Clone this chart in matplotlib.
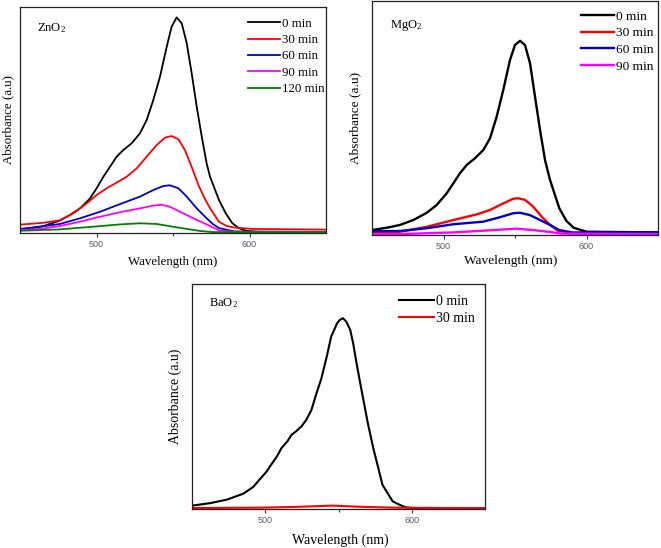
import matplotlib
matplotlib.use("Agg")
import matplotlib.pyplot as plt
from matplotlib.ticker import FixedLocator

plt.rcParams['font.family'] = ['Liberation Serif', 'DejaVu Serif']
plt.rcParams['mathtext.fontset'] = 'custom'
plt.rcParams['mathtext.rm'] = 'Liberation Serif'
plt.rcParams['mathtext.it'] = 'Liberation Serif:italic'

# ---------------- data ----------------
zn_wl_0 = [450, 465, 476, 482.7, 489.2, 495.8, 500.1, 504.5, 508.8, 513.2, 517.5, 523, 528.4, 532.8, 537.1,
           541.5, 545.9, 549.1, 552.4, 555.7, 559, 562.2, 565.5, 568.8, 572, 574.2, 580, 584.4, 588.7, 593,
           597.4, 605, 650]
zn_0 = [0.012, 0.03, 0.055, 0.080, 0.109, 0.153, 0.198, 0.249, 0.293, 0.338, 0.367, 0.397, 0.441, 0.50, 0.588,
        0.692, 0.824, 0.913, 0.954, 0.928, 0.839, 0.707, 0.559, 0.426, 0.308, 0.249, 0.147, 0.088, 0.044, 0.022,
        0.01, 0.005, 0.004]
zn_wl_30 = [450, 465, 476, 484.9, 493.6, 500.1, 506.7, 513.2, 519.7, 526.3, 532.8, 539.3, 544.8, 549.1, 553.5,
            557.8, 562.2, 566.6, 570.9, 574.2, 580, 585, 590, 602, 650]
zn_30 = [0.037, 0.045, 0.056, 0.087, 0.131, 0.168, 0.198, 0.223, 0.249, 0.286, 0.338, 0.389, 0.422, 0.429, 0.415,
         0.367, 0.293, 0.212, 0.150, 0.11, 0.05, 0.031, 0.024, 0.018, 0.015]
zn_wl_60 = [450, 465, 476.1, 489.2, 502.3, 515.4, 528.4, 537.1, 543.7, 548, 553.5, 559, 565.5, 572, 576, 580, 590, 650]
zn_60 = [0.018, 0.03, 0.040, 0.065, 0.094, 0.128, 0.161, 0.19, 0.208, 0.211, 0.198, 0.161, 0.109, 0.065, 0.04, 0.022,
         0.007, 0.005]
zn_wl_90 = [450, 465, 476.1, 489.2, 502.3, 515.4, 528.4, 537.1, 542.6, 548, 554.6, 563.3, 574.2, 580, 590, 650]
zn_90 = [0.012, 0.02, 0.031, 0.050, 0.072, 0.092, 0.109, 0.121, 0.125, 0.116, 0.094, 0.065, 0.031, 0.012, 0.005, 0.004]
zn_wl_120 = [450, 476, 497.9, 515.4, 528.4, 539.3, 552.4, 567.7, 576, 650]
zn_120 = [0.01, 0.016, 0.028, 0.038, 0.043, 0.040, 0.025, 0.009, 0.004, 0.003]

mg_wl_0 = [450, 462, 469.6, 478.9, 488.3, 495.2, 502.2, 506.9, 511.5, 516.2, 522, 527.8, 532.5, 537.2, 541.8,
           546.5, 550, 553.5, 557, 560.5, 564, 567.5, 571, 574.5, 581, 586, 591, 600, 650]
mg_0 = [0.021, 0.033, 0.043, 0.064, 0.095, 0.128, 0.178, 0.221, 0.264, 0.299, 0.328, 0.363, 0.413, 0.506, 0.62,
        0.748, 0.812, 0.83, 0.812, 0.734, 0.591, 0.449, 0.32, 0.235, 0.114, 0.06, 0.031, 0.014, 0.011]
mg_wl_30 = [450, 469.6, 488.3, 506.9, 523.2, 532.5, 541.8, 548.8, 552.3, 557, 562.8, 568.7, 574.5, 580, 590, 650]
mg_30 = [0.011, 0.014, 0.035, 0.064, 0.088, 0.107, 0.135, 0.155, 0.157, 0.15, 0.121, 0.078, 0.043, 0.018, 0.007, 0.003]
mg_wl_60 = [450, 469.6, 488.3, 506.9, 527.8, 539.5, 548.8, 553.5, 560.5, 567.5, 574.5, 581, 590, 650]
mg_60 = [0.016, 0.017, 0.029, 0.046, 0.057, 0.076, 0.093, 0.095, 0.085, 0.064, 0.043, 0.021, 0.011, 0.011]
mg_wl_90 = [450, 469.6, 506.9, 534.8, 551.2, 562.8, 574.5, 582, 650]
mg_90 = [0.003, 0.004, 0.011, 0.021, 0.027, 0.021, 0.013, 0.006, 0.003]

ba_wl_0 = [450, 462.4, 474, 485, 491.8, 496, 501, 503.2, 508, 511, 515, 518, 521, 524.7, 528, 531.5, 535, 538.3,
           542, 545, 549, 550.8, 553, 555.3, 558, 560, 562, 564.4, 567, 570, 574, 576.9, 580, 583.7, 587, 591.6,
           596, 603, 650]
ba_0 = [0.015, 0.026, 0.042, 0.068, 0.098, 0.13, 0.167, 0.189, 0.234, 0.27, 0.30, 0.33, 0.345, 0.367, 0.396, 0.44,
        0.515, 0.58, 0.678, 0.766, 0.825, 0.84, 0.848, 0.833, 0.796, 0.737, 0.66, 0.574, 0.485, 0.382, 0.263, 0.189,
        0.108, 0.068, 0.034, 0.019, 0.007, 0.003, 0.003]
ba_wl_30 = [450, 497, 519, 546, 564, 587, 650]
ba_30 = [0.004, 0.006, 0.009, 0.015, 0.01, 0.006, 0.003]

labels_zn = ["0 min", "30 min", "60 min", "90 min", "120 min"]
labels_mg = ["0 min", "30 min", "60 min", "90 min"]
labels_ba = ["0 min", "30 min"]
colors = ["#000000", "#ff0000", "#0000cc", "#ff00ff", "#008000"]
x_ticks = [500, 600]
x_minor = [550]

W, H = 661, 548
fig = plt.figure(figsize=(W / 100, H / 100), dpi=100)


def make_ax(x0, y0, x1, y1):
    return fig.add_axes([x0 / W, 1 - y1 / H, (x1 - x0) / W, (y1 - y0) / H])


def style(ax, title, ylab_x, xlab_y, xlab_x, lfs, tfs, leg_xy, lsp):
    ax.set_xlim(450, 650)
    ax.set_ylim(0, 1)
    ax.set_yticks([])
    ax.xaxis.set_major_locator(FixedLocator(x_ticks))
    ax.xaxis.set_minor_locator(FixedLocator(x_minor))
    ax.tick_params(axis='x', which='major', direction='out', length=3, width=0.8,
                   labelsize=6.5, labelcolor='#5a5a6a', pad=2, color='#333333')
    ax.tick_params(axis='x', which='minor', direction='out', length=2, width=0.8, color='#333333')
    for lab in ax.get_xticklabels():
        lab.set_family(['Liberation Sans', 'DejaVu Sans'])
    for s in ax.spines.values():
        s.set_linewidth(0.9)
        s.set_color('#222222')
    ax.set_xlabel("Wavelength (nm)", fontsize=lfs, va='top')
    ax.set_ylabel("Absorbance (a.u)", fontsize=lfs)
    ax.xaxis.set_label_coords(xlab_x, xlab_y)
    ax.yaxis.set_label_coords(ylab_x, 0.5)
    ax.text(title[1], title[2], title[0], transform=ax.transAxes, fontsize=tfs,
            ha='left', va='center')
    ax.legend(loc='upper left', bbox_to_anchor=leg_xy, frameon=False, fontsize=lfs,
              handlelength=2.5, handletextpad=0.15, labelspacing=lsp, borderpad=0,
              borderaxespad=0)


# Panel 1: ZnO2
ax1 = make_ax(20, 7, 326, 233)
for wl, y, c, l in zip([zn_wl_0, zn_wl_30, zn_wl_60, zn_wl_90, zn_wl_120],
                       [zn_0, zn_30, zn_60, zn_90, zn_120], colors, labels_zn):
    ax1.plot(wl, y, color=c, lw=1.3, label=l, solid_joinstyle='round')
style(ax1, ("ZnO$_2$", 0.055, 0.907), -0.02, -0.10, 0.5, 9.3, 9, (0.745, 0.952), 0.33)

# Panel 2: MgO2
ax2 = make_ax(372, 1, 658, 235)
for wl, y, c, l in zip([mg_wl_0, mg_wl_30, mg_wl_60, mg_wl_90],
                       [mg_0, mg_30, mg_60, mg_90], colors, labels_mg):
    ax2.plot(wl, y, color=c, lw=1.7, label=l, solid_joinstyle='round')
style(ax2, ("MgO$_2$", 0.063, 0.897), -0.038, -0.085, 0.486, 9.6, 9, (0.73, 0.96), 0.33)

# Panel 3: BaO2
ax3 = make_ax(192, 284, 485, 509)
for wl, y, c, l in zip([ba_wl_0, ba_wl_30], [ba_0, ba_30], colors, labels_ba):
    ax3.plot(wl, y, color=c, lw=1.5, label=l, solid_joinstyle='round')
style(ax3, ("BaO$_2$", 0.058, 0.916), -0.034, -0.107, 0.505, 10, 9, (0.706, 0.95), 0.25)

fig.savefig("out.png", dpi=100)
